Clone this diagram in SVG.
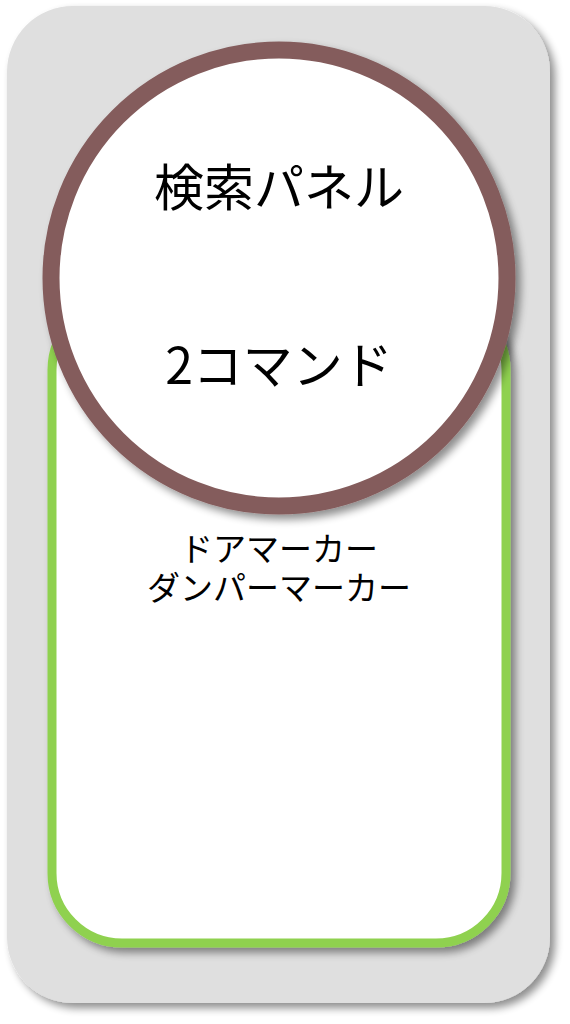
<svg xmlns="http://www.w3.org/2000/svg" width="570" height="1024" viewBox="0 0 570 1024">
<defs>
<filter id="sh" x="-20%" y="-20%" width="140%" height="140%">
<feGaussianBlur in="SourceAlpha" stdDeviation="4"/>
<feOffset dx="5" dy="5" result="b"/>
<feComponentTransfer><feFuncA type="linear" slope="0.45"/></feComponentTransfer>
<feMerge><feMergeNode/><feMergeNode in="SourceGraphic"/></feMerge>
</filter>
</defs>
<style>
.t{font-family:"Noto Sans CJK JP","Noto Sans",sans-serif;fill:#000;text-anchor:middle}
</style>
<rect width="570" height="1024" fill="#ffffff"/>
<g id="outer">
<rect x="7" y="6" width="543" height="997" rx="66" fill="#dfdfdf" filter="url(#sh)"/>
</g>
<g id="markers">
<rect x="52" y="300" width="454" height="643" rx="70" fill="#ffffff" stroke="#8fd14f" stroke-width="9" filter="url(#sh)"/>
<text class="t" font-size="33"><tspan x="279" y="561">ドアマーカー</tspan><tspan x="279" y="600">ダンパーマーカー</tspan></text>
</g>
<g id="panel">
<circle cx="279" cy="278" r="228" fill="#ffffff" stroke="#845c5c" stroke-width="17" filter="url(#sh)"/>
<text class="t" x="279" y="206" font-size="50">検索パネル</text>
<text class="t" x="279" y="384" font-size="50">2コマンド</text>
</g>
<g id="connectors"/>
</svg>
